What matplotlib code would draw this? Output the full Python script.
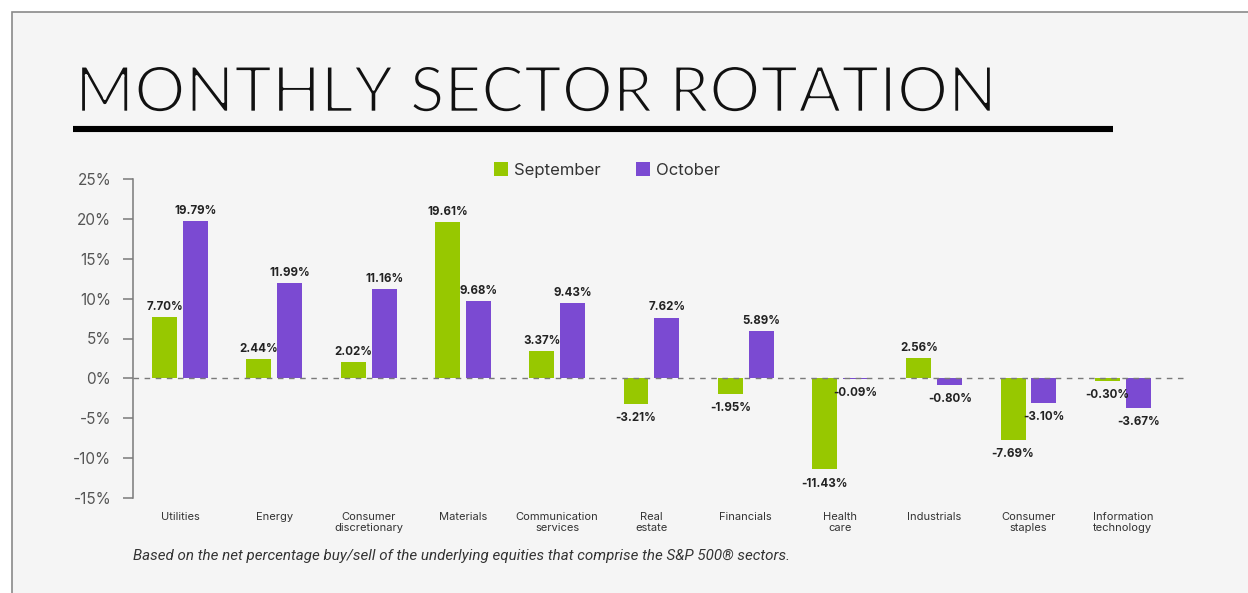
"""Monthly sector rotation: September vs October net buy/sell by S&P 500 sector."""
import numpy as np
import matplotlib.pyplot as plt
import matplotlib.patheffects as pe
from matplotlib.patches import Rectangle, Patch
from matplotlib.lines import Line2D
from matplotlib.ticker import FuncFormatter

# ── Data ──────────────────────────────────────────────────────────
sectors = [
    "Utilities", "Energy", "Consumer\ndiscretionary", "Materials",
    "Communication\nservices", "Real\nestate", "Financials", "Health\ncare",
    "Industrials", "Consumer\nstaples", "Information\ntechnology",
]
september = [7.70, 2.44, 2.02, 19.61, 3.37, -3.21, -1.95, -11.43, 2.56, -7.69, -0.30]
october = [19.79, 11.99, 11.16, 9.68, 9.43, 7.62, 5.89, -0.09, -0.80, -3.10, -3.67]
y_ticks = [-15, -10, -5, 0, 5, 10, 15, 20, 25]

# ── Palette ───────────────────────────────────────────────────────
PANEL = "#f5f5f5"
EDGE = "#8a8a8a"
GREEN = "#97c800"
PURPLE = "#7b4ad2"
AXIS = "#7a7a7a"
TICK_TXT = "#555555"
LABEL = "#222222"

W, H, DPI = 1248, 593, 100
fig = plt.figure(figsize=(W / DPI, H / DPI), dpi=DPI, facecolor="white")
plt.rcParams["font.family"] = ["Inter", "DejaVu Sans"]


def fx(px):
    return px / W


def fy(py):
    return 1 - py / H


# panel card with grey border (behind everything)
fig.patches.append(Rectangle((fx(12), -0.01), 1.0, fy(12) + 0.01,
                             transform=fig.transFigure, facecolor=PANEL,
                             edgecolor=EDGE, linewidth=1.2, zorder=-10))

# title + heavy rule; a panel-coloured stroke on top thins Lato to a light cut
fig.text(fx(75), fy(112), "MONTHLY SECTOR ROTATION", fontsize=46,
         family=["Lato", "DejaVu Sans"], fontweight="normal",
         color="#111111", va="baseline", ha="left",
         path_effects=[pe.Normal(), pe.Stroke(linewidth=1.9, foreground=PANEL)])
fig.lines.append(Line2D([fx(73), fx(1113)], [fy(129), fy(129)],
                        transform=fig.transFigure, color="black", lw=4.4,
                        solid_capstyle="butt"))

# ── Axes ──────────────────────────────────────────────────────────
ax = fig.add_axes([fx(133), fy(497.7), fx(1185) - fx(133),
                   fy(179.3) - fy(497.7)])
ax.set_facecolor("none")
ax.set_xlim(-0.5, 10.66)
ax.set_ylim(-15, 25)

x = np.arange(len(sectors))
bw = 0.265
off = 0.164
b1 = ax.bar(x - off, september, bw, color=GREEN, zorder=2)
b2 = ax.bar(x + off, october, bw, color=PURPLE, zorder=2)

for bars, vals in ((b1, september), (b2, october)):
    for rect, v in zip(bars, vals):
        cx = rect.get_x() + rect.get_width() / 2
        if v >= 0:
            ax.annotate(f"{v:.2f}%", (cx, v), xytext=(0, 3),
                        textcoords="offset points", ha="center", va="bottom",
                        fontsize=8.3, fontweight="bold", color=LABEL)
        else:
            ax.annotate(f"{v:.2f}%", (cx, v), xytext=(0, -6),
                        textcoords="offset points", ha="center", va="top",
                        fontsize=8.3, fontweight="bold", color=LABEL)

ax.axhline(0, color=AXIS, lw=1.0, ls=(0, (4, 4)), zorder=3)

for s in ("top", "right", "bottom"):
    ax.spines[s].set_visible(False)
ax.spines["left"].set_color(AXIS)
ax.spines["left"].set_linewidth(1.1)

ax.set_yticks(y_ticks)
ax.yaxis.set_major_formatter(FuncFormatter(lambda v, _: f"{v:.0f}%"))
ax.tick_params(axis="y", length=7.2, width=1.1, color=AXIS, pad=8.5,
               labelsize=11, labelcolor=TICK_TXT)

ax.set_xticks(x)
ax.set_xticklabels(sectors, linespacing=1.2)
ax.tick_params(axis="x", length=0, pad=10, labelsize=8, labelcolor="#333333")

# legend
handles = [Patch(facecolor=GREEN, label="September"),
           Patch(facecolor=PURPLE, label="October")]
fig.legend(handles=handles, loc="center", bbox_to_anchor=(fx(607), fy(170)),
           ncol=2, frameon=False, fontsize=12, handlelength=0.85,
           handleheight=0.85, handletextpad=0.35, columnspacing=2.1,
           borderpad=0, labelcolor="#333333")

# footnote
fig.text(fx(133), fy(556),
         "Based on the net percentage buy/sell of the underlying equities "
         "that comprise the S&P 500\u00ae sectors.",
         fontsize=10.9, family=["Roboto", "DejaVu Sans"], style="italic",
         color="#333333", va="center", ha="left")

fig.savefig("out.png", dpi=DPI, facecolor="white")
